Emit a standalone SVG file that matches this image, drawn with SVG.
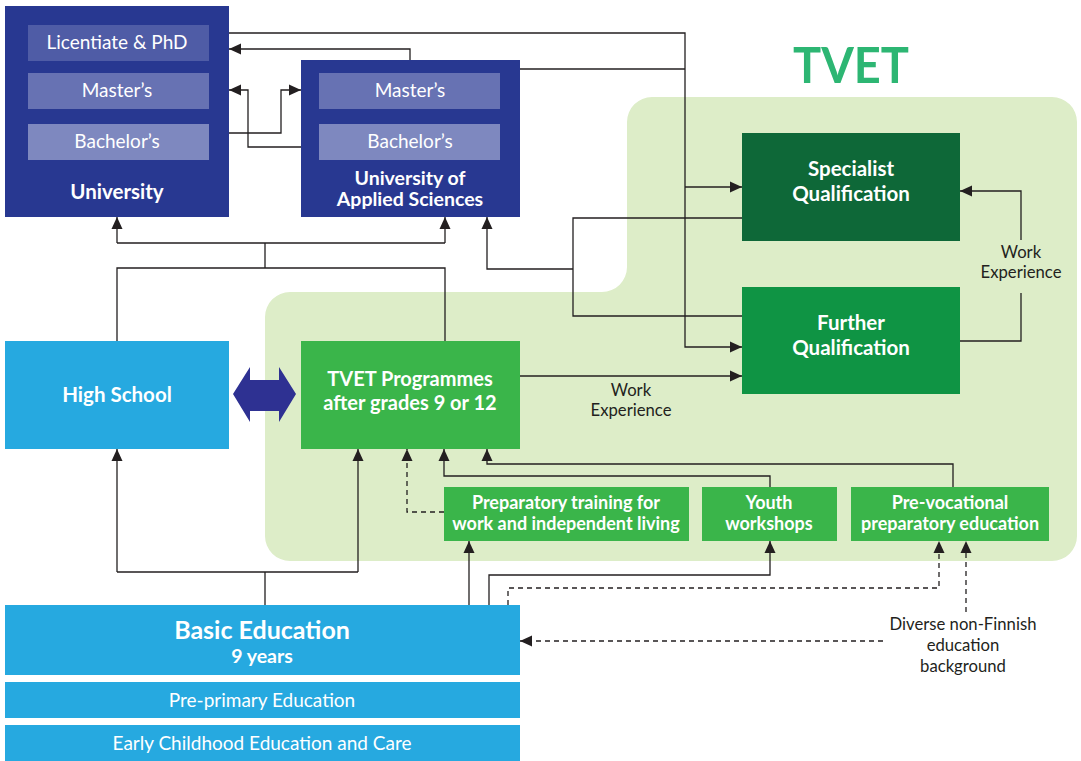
<svg xmlns="http://www.w3.org/2000/svg" width="1081" height="761" viewBox="0 0 1081 761">
<style>
text{font-family:Lato,"Noto Sans","Liberation Sans",sans-serif;fill:#fff;text-anchor:middle}
.b{font-weight:bold}
.lab{fill:#231f20;font-size:16.7px}
.ln{fill:none;stroke:#231f20;stroke-width:1.3}
.ds{stroke-dasharray:5,4}
.ar{marker-end:url(#ah)}
.r{font-size:19px}
.h{font-size:20.5px}
.s{font-size:18px}
</style>
<defs>
<marker id="ah" markerUnits="userSpaceOnUse" markerWidth="12" markerHeight="12" viewBox="0 0 12 12" refX="12" refY="6" orient="auto">
<path d="M0,0.5 L12,6 L0,11.5 Z" fill="#231f20"/>
</marker>
</defs>
<rect width="1081" height="761" fill="#fff"/>
<path id="tvet-area" d="M290,292 H602 A25,25 0 0 0 627,267 V122 A25,25 0 0 1 652,97 H1052 A25,25 0 0 1 1077,122 V536 A25,25 0 0 1 1052,561 H290 A25,25 0 0 1 265,536 V317 A25,25 0 0 1 290,292 Z" fill="#ddedc8"/>
<text x="851" y="83" class="b" style="font-size:50px;fill:#2db673" textLength="116" lengthAdjust="spacingAndGlyphs">TVET</text>

<g id="connectors">
<path class="ln" d="M229,33 H685 V347 H742" marker-end="url(#ah)"/>
<path class="ln ar" d="M685,187 H742"/>
<path class="ln" d="M520,69 H685"/>
<path class="ln ar" d="M410,60 V49 H229"/>
<path class="ln ar" d="M301,147 H248 V90 H229"/>
<path class="ln ar" d="M229,133 H281 V90 H301"/>
<path class="ln" d="M117,341 V268 H445 V341 M265,268 V243 M117,243 H445"/>
<path class="ln ar" d="M117,243 V217"/>
<path class="ln ar" d="M445,243 V217"/>
<path class="ln" d="M742,218 H573 V316 H742"/>
<path class="ln ar" d="M573,269 H487 V217"/>
<path class="ln ar" d="M1021,240 V191 H960"/>
<path class="ln" d="M1021,293 V341 H960"/>
<path class="ln ar" d="M520,376 H742"/>
<path class="ln" d="M265,605 V572 M117,572 H358"/>
<path class="ln ar" d="M117,572 V449"/>
<path class="ln ar" d="M358,572 V449"/>
<path class="ln ds ar" d="M444,512 H407 V449"/>
<path class="ln ar" d="M770,487 V476 H444 V449"/>
<path class="ln ar" d="M953,487 V464 H487 V449"/>
<path class="ln ar" d="M469,605 V541"/>
<path class="ln ar" d="M489,605 V575 H770 V541"/>
<path class="ln ds ar" d="M508,605 V588 H939 V541"/>
<path class="ln ds ar" d="M966,612 V541"/>
<path class="ln ds ar" d="M883,641 H520"/>
</g>

<g id="university">
<rect x="5" y="6" width="224" height="211" fill="#283891"/>
<rect x="28" y="25" width="181" height="36" fill="#4f5ca6"/>
<rect x="28" y="73" width="181" height="36" fill="#6772b3"/>
<rect x="28" y="124" width="181" height="36" fill="#7e88bf"/>
<text x="117" y="49" class="r">Licentiate &amp; PhD</text>
<text x="117" y="97" class="r">Master’s</text>
<text x="117" y="148" class="r">Bachelor’s</text>
<text x="117" y="199" class="b h">University</text>
</g>

<g id="uas">
<rect x="301" y="60" width="219" height="157" fill="#283891"/>
<rect x="319" y="73" width="181" height="36" fill="#6772b3"/>
<rect x="319" y="124" width="181" height="36" fill="#7e88bf"/>
<text x="410" y="97" class="r">Master’s</text>
<text x="410" y="148" class="r">Bachelor’s</text>
<text x="410" y="185" class="b" style="font-size:19.5px">University of</text>
<text x="410" y="206" class="b" style="font-size:19.5px">Applied Sciences</text>
</g>

<g id="specialist">
<rect x="742" y="133" width="218" height="108" fill="#0e6838"/>
<text x="851" y="176" class="b h">Specialist</text>
<text x="851" y="201" class="b h">Qualification</text>
</g>

<g id="further">
<rect x="742" y="287" width="218" height="107" fill="#0f9444"/>
<text x="851" y="330" class="b h">Further</text>
<text x="851" y="355" class="b h">Qualification</text>
</g>

<g id="work-exp-1">
<text x="1021" y="258" class="lab">Work</text>
<text x="1021" y="278" class="lab">Experience</text>
</g>
<g id="work-exp-2">
<text x="631" y="396" class="lab">Work</text>
<text x="631" y="416" class="lab">Experience</text>
</g>

<g id="high-school">
<rect x="5" y="341" width="224" height="108" fill="#26a9e0"/>
<text x="117" y="402" class="b" style="font-size:20.5px">High School</text>
</g>

<g id="double-arrow">
<polygon points="233,394 250,367 250,380 279,380 279,367 296,394 279,422 279,411 250,411 250,422" fill="#2e3192"/>
</g>

<g id="tvet-programmes">
<rect x="301" y="341" width="219" height="108" fill="#3ab54a"/>
<text x="410" y="386" class="b" style="font-size:20px">TVET Programmes</text>
<text x="410" y="410" class="b" style="font-size:20px">after grades 9 or 12</text>
</g>

<g id="preparatory">
<rect x="444" y="487" width="245" height="54" fill="#3ab54a"/>
<text x="566" y="509" class="b s">Preparatory training for</text>
<text x="566" y="530" class="b s">work and independent living</text>
</g>

<g id="youth">
<rect x="702" y="487" width="135" height="54" fill="#3ab54a"/>
<text x="769" y="509" class="b s">Youth</text>
<text x="769" y="530" class="b s">workshops</text>
</g>

<g id="prevocational">
<rect x="851" y="487" width="198" height="54" fill="#3ab54a"/>
<text x="950" y="509" class="b s">Pre-vocational</text>
<text x="950" y="530" class="b s">preparatory education</text>
</g>

<g id="diverse">
<text x="963" y="630" class="lab">Diverse non-Finnish</text>
<text x="963" y="651" class="lab">education</text>
<text x="963" y="672" class="lab">background</text>
</g>

<g id="basic-education">
<rect x="5" y="605" width="515" height="70" fill="#26a9e0"/>
<text x="262" y="639" class="b" style="font-size:25px">Basic Education</text>
<text x="262" y="663" class="b" style="font-size:19.5px">9 years</text>
</g>

<g id="pre-primary">
<rect x="5" y="682" width="515" height="36" fill="#26a9e0"/>
<text x="262" y="707" class="r">Pre-primary Education</text>
</g>

<g id="ecec">
<rect x="5" y="725" width="515" height="36" fill="#26a9e0"/>
<text x="262" y="750" class="r">Early Childhood Education and Care</text>
</g>
</svg>
